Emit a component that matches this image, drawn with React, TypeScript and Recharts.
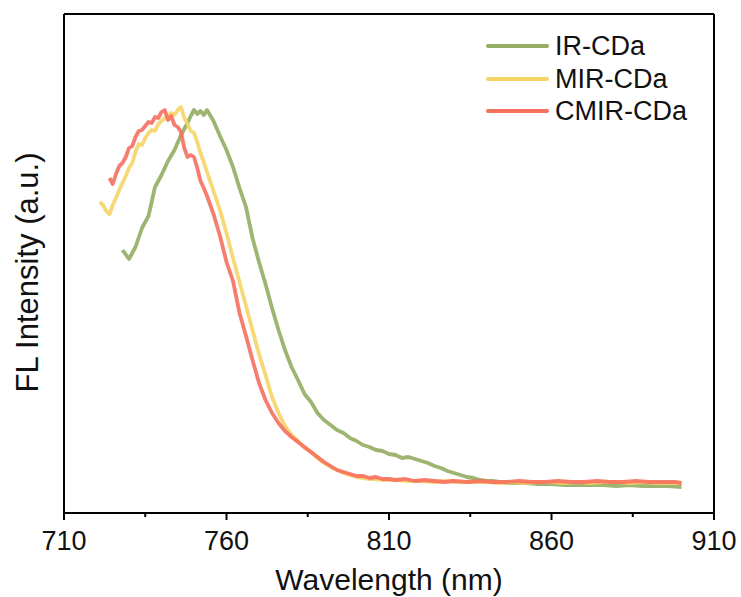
import React from 'react';
import { LineChart, Line, XAxis, YAxis, Legend } from 'recharts';

// IR-CDa
const irNm = [728, 730, 732, 734, 736, 738, 740, 742, 744, 746, 748, 749, 750, 751, 752, 753, 754, 756, 758, 760, 762, 764, 766, 768, 770, 772, 774, 776, 778, 780, 782, 784, 786, 788, 790, 792, 794, 796, 798, 800, 802, 804, 806, 808, 810, 812, 814, 816, 818, 820, 822, 824, 826, 828, 830, 832, 834, 836, 838, 840, 842, 844, 848, 852, 856, 860, 864, 868, 872, 876, 880, 884, 888, 892, 896, 900];
const irVal = [263, 254, 266, 285, 297, 326, 338, 352, 363, 378, 390, 397, 403, 399, 402, 398, 403, 392, 377, 363, 346, 325, 306, 275, 251, 229, 205, 183, 163, 146, 133, 119, 111, 100, 93, 88, 83, 80, 75, 72, 68, 66, 63, 62, 59, 58, 55, 56, 54, 52, 50, 47, 45, 42, 40, 38, 36, 35, 33, 32, 32, 31, 30, 30, 29, 29, 28, 28, 28, 28, 27, 28, 27, 27, 27, 26];

// MIR-CDa
const mirNm = [721, 722, 723, 724, 725, 726, 727, 728, 729, 730, 731, 732, 733, 734, 735, 736, 737, 738, 739, 740, 741, 742, 743, 744, 745, 746, 747, 748, 749, 750, 751, 752, 753, 754, 756, 758, 760, 762, 764, 766, 768, 770, 772, 774, 776, 778, 780, 782, 784, 786, 788, 790, 792, 794, 796, 798, 800, 802, 804, 806, 808, 812, 816, 820, 824, 828, 832, 836, 840, 844, 848, 852, 856, 860, 864, 868, 872, 876, 880, 884, 888, 892, 896, 900];
const mirVal = [311, 308, 302, 299, 308, 315, 323, 330, 337, 345, 350, 361, 369, 368, 375, 380, 383, 382, 389, 392, 395, 397, 400, 398, 403, 406, 395, 389, 382, 380, 371, 360, 351, 341, 322, 303, 280, 255, 231, 207, 183, 159, 138, 116, 100, 87, 78, 72, 65, 61, 55, 50, 46, 43, 40, 38, 36, 35, 34, 34, 33, 33, 32, 32, 31, 32, 31, 31, 31, 30, 31, 30, 31, 31, 30, 31, 30, 31, 31, 30, 31, 30, 30, 30];

// CMIR-CDa
const cmirNm = [724, 725, 726, 727, 728, 729, 730, 731, 732, 733, 734, 735, 736, 737, 738, 739, 740, 741, 742, 743, 744, 745, 746, 747, 748, 749, 750, 751, 752, 753, 754, 756, 758, 760, 762, 764, 766, 768, 770, 772, 774, 776, 778, 780, 782, 784, 786, 788, 790, 792, 794, 796, 798, 800, 802, 804, 806, 808, 810, 812, 815, 818, 821, 824, 827, 830, 834, 838, 842, 846, 850, 854, 858, 862, 866, 870, 874, 878, 882, 886, 890, 894, 898, 900];
const cmirVal = [335, 329, 339, 347, 350, 356, 365, 367, 376, 382, 383, 387, 391, 390, 396, 395, 401, 403, 393, 397, 388, 386, 381, 365, 356, 358, 356, 345, 332, 325, 317, 299, 277, 251, 232, 200, 177, 153, 130, 113, 100, 90, 82, 76, 71, 66, 61, 56, 51, 47, 43, 41, 39, 37, 37, 35, 36, 34, 34, 33, 34, 32, 33, 32, 31, 32, 31, 32, 31, 31, 32, 31, 31, 32, 31, 31, 32, 31, 31, 32, 31, 31, 31, 30];

const seriesNames = ['IR-CDa', 'MIR-CDa', 'CMIR-CDa'];
const seriesColors = ['#94ad62', '#f6d468', '#f6705e'];

const xTicks = [710, 735, 760, 785, 810, 835, 860, 885, 910];
const majorTicks = [710, 760, 810, 860, 910];
const xDomain = [710, 910];
const yDomain = [0, 499];

const FONT = '"Liberation Sans", Arial, Helvetica, sans-serif';

const toPoints = (nm: number[], val: number[]) => nm.map((x, i) => ({ nm: x, v: val[i] }));
const seriesData = [toPoints(irNm, irVal), toPoints(mirNm, mirVal), toPoints(cmirNm, cmirVal)];

function XTick(props: any) {
  const { x, y, payload } = props;
  const major = majorTicks.includes(payload.value);
  return (
    <g>
      <line x1={x} y1={y} x2={x} y2={y + (major ? 7 : 4)} stroke="#000" strokeWidth={2} />
      {major && (
        <text x={x} y={y + 37} textAnchor="middle" fontSize={27} fontFamily={FONT} fill="#111">
          {payload.value}
        </text>
      )}
    </g>
  );
}

const XTitle = (props: any) => {
  const vb = props.viewBox || {};
  return (
    <text x={vb.x + vb.width / 2} y={vb.y + 77} textAnchor="middle" fontSize={30} fontFamily={FONT} fill="#111">
      Wavelength (nm)
    </text>
  );
};

const YTitle = (props: any) => {
  const vb = props.viewBox || {};
  const x = 38;
  const y = vb.y + vb.height / 2 + 9;
  return (
    <text x={x} y={y} transform={`rotate(-90, ${x}, ${y})`} textAnchor="middle" fontSize={31} fontFamily={FONT} fill="#111">
      FL Intensity (a.u.)
    </text>
  );
};

const LegendContent = () => (
  <div style={{ fontFamily: FONT }}>
    {seriesNames.map((n, i) => (
      <div key={n} style={{ display: 'flex', alignItems: 'center', height: 32.5 }}>
        <svg width={63} height={6} style={{ display: 'block' }}>
          <line x1={2} y1={3} x2={61} y2={3} stroke={seriesColors[i]} strokeWidth={4} strokeLinecap="round" />
        </svg>
        <span style={{ marginLeft: 6, fontSize: 27, color: '#111', lineHeight: '32.5px', whiteSpace: 'nowrap' }}>{n}</span>
      </div>
    ))}
  </div>
);

export default function App() {
  return (
    <div>
      <style>{`body{margin:0;background:#fff;}`}</style>
      <LineChart width={741} height={597} margin={{ top: 13, right: 26, bottom: 0, left: 63 }}>
        <XAxis
          xAxisId="b"
          type="number"
          dataKey="nm"
          domain={xDomain}
          ticks={xTicks}
          interval={0}
          allowDataOverflow
          tickSize={0}
          tickMargin={0}
          tickLine={false}
          tick={<XTick />}
          axisLine={{ stroke: '#000', strokeWidth: 2 }}
          height={84}
          label={XTitle}
        />
        <XAxis
          xAxisId="t"
          orientation="top"
          type="number"
          dataKey="nm"
          domain={xDomain}
          allowDataOverflow
          tick={false}
          tickLine={false}
          axisLine={{ stroke: '#000', strokeWidth: 2 }}
          height={1}
        />
        <YAxis
          yAxisId="l"
          type="number"
          domain={yDomain}
          allowDataOverflow
          tick={false}
          tickLine={false}
          axisLine={{ stroke: '#000', strokeWidth: 2 }}
          width={1}
          label={YTitle}
        />
        <YAxis
          yAxisId="r"
          orientation="right"
          type="number"
          domain={yDomain}
          allowDataOverflow
          tick={false}
          tickLine={false}
          axisLine={{ stroke: '#000', strokeWidth: 2 }}
          width={1}
        />
        {seriesData.map((d, i) => (
          <Line
            key={seriesNames[i]}
            xAxisId="b"
            yAxisId="l"
            data={d}
            dataKey="v"
            name={seriesNames[i]}
            type="linear"
            stroke={seriesColors[i]}
            strokeWidth={3.8}
            strokeOpacity={0.9}
            strokeLinejoin="round"
            dot={false}
            activeDot={false}
            isAnimationActive={false}
          />
        ))}
        <Legend
          layout="vertical"
          align="center"
          verticalAlign="middle"
          content={<LegendContent />}
          wrapperStyle={{ position: 'absolute', top: 30, left: 486, width: 'auto', height: 'auto' }}
        />
      </LineChart>
    </div>
  );
}
